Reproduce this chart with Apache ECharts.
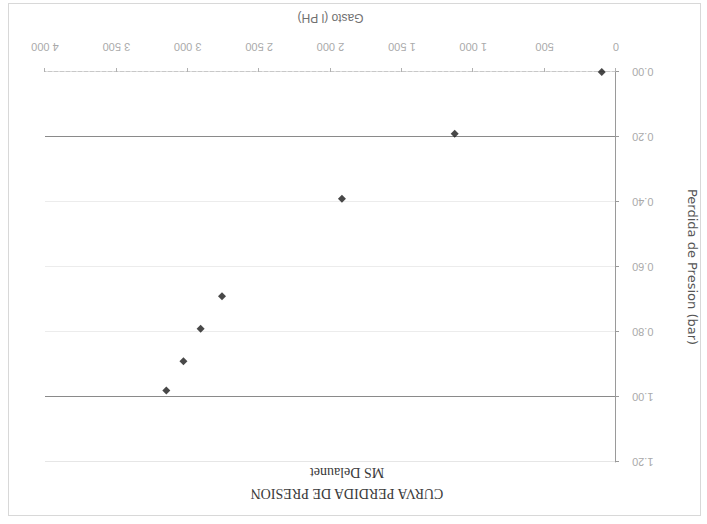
<!DOCTYPE html>
<html>
<head>
<meta charset="utf-8">
<script src="https://cdn.jsdelivr.net/npm/echarts@6/dist/echarts.min.js"></script>
<style>
  html, body { margin: 0; padding: 0; background: #fff; }
  #frame {
    width: 707px;
    height: 524px;
    position: relative;
    transform: rotate(180deg);
  }
  #chart { width: 707px; height: 524px; }
  #border {
    position: absolute;
    left: 6px; top: 8px; right: 8px; bottom: 3px;
    border: 1px solid #d8d8d8;
    pointer-events: none;
  }
</style>
</head>
<body>
<div id="frame">
  <div id="chart"></div>
  <div id="border"></div>
</div>
<script>
// scanned sheet is upside down, the frame is rotated 180deg in CSS
const gasto = [100, 1130, 1920, 2760, 2910, 3030, 3150];
const perdida = [0.00, 0.19, 0.39, 0.69, 0.79, 0.89, 0.98];
const xMin = 0, xMax = 4000, xStep = 500;
const yMin = 0, yMax = 1.2, yStep = 0.2;
// darker rules at 0.20 and 1.00 in the scan
const yRuleColors = ["#ececec", "#8a8a8a", "#ececec", "#ececec", "#ececec", "#8a8a8a", "#e6e6e6"];

function formatGasto(v) {
  if (v < 1000) {
    return String(v);
  }
  return Math.floor(v / 1000) + " " + String(v % 1000).padStart(3, "0");
}

const chart = echarts.init(document.getElementById("chart"), null, { renderer: "svg" });

chart.setOption({
  backgroundColor: "#fff",
  animation: false,
  title: {
    text: "CURVA PERDIDA DE PRESION",
    subtext: "MS Delaunet",
    left: 355,
    textAlign: "center",
    top: 19,
    itemGap: 7,
    textStyle: {
      fontFamily: "Liberation Serif",
      fontSize: 14,
      fontWeight: "normal",
      color: "#3a3a3a",
    },
    subtextStyle: {
      fontFamily: "Liberation Serif",
      fontSize: 14,
      color: "#3a3a3a",
    },
  },
  grid: {
    left: 90,
    right: 45,
    top: 62,
    bottom: 72,
  },
  xAxis: {
    type: "value",
    min: xMin,
    max: xMax,
    interval: xStep,
    name: "Gasto (l PH)",
    nameLocation: "middle",
    nameGap: 48,
    nameTextStyle: {
      fontFamily: "Liberation Sans",
      fontSize: 12,
      color: "#707070",
    },
    axisLine: {
      lineStyle: { color: "#c8c8c8", type: "dashed" },
    },
    axisTick: {
      show: true,
      length: 4,
      lineStyle: { color: "#b0b0b0" },
    },
    axisLabel: {
      margin: 20,
      fontFamily: "Liberation Sans Narrow, Liberation Sans",
      fontSize: 11,
      color: "#aaaaaa",
      formatter: formatGasto,
    },
    splitLine: { show: false },
  },
  yAxis: {
    type: "value",
    min: yMin,
    max: yMax,
    interval: yStep,
    name: "Perdida de Presion (bar)",
    nameLocation: "middle",
    nameGap: 70,
    nameTextStyle: {
      fontFamily: "DejaVu Sans",
      fontSize: 13,
      color: "#555555",
    },
    axisLine: {
      show: true,
      lineStyle: { color: "#9a9a9a" },
    },
    axisTick: {
      show: true,
      length: 3,
      lineStyle: { color: "#9a9a9a" },
    },
    axisLabel: {
      margin: 16,
      fontFamily: "Liberation Sans Narrow, Liberation Sans",
      fontSize: 11,
      color: "#aaaaaa",
      formatter: (v) => v.toFixed(2),
    },
    splitLine: {
      lineStyle: { color: yRuleColors, type: "solid", width: 1 },
    },
  },
  series: [
    {
      type: "scatter",
      data: gasto.map((g, i) => [g, perdida[i]]),
      symbol: "diamond",
      symbolSize: 8,
      itemStyle: { color: "#1a1a1a" },
    },
  ],
});
</script>
</body>
</html>
